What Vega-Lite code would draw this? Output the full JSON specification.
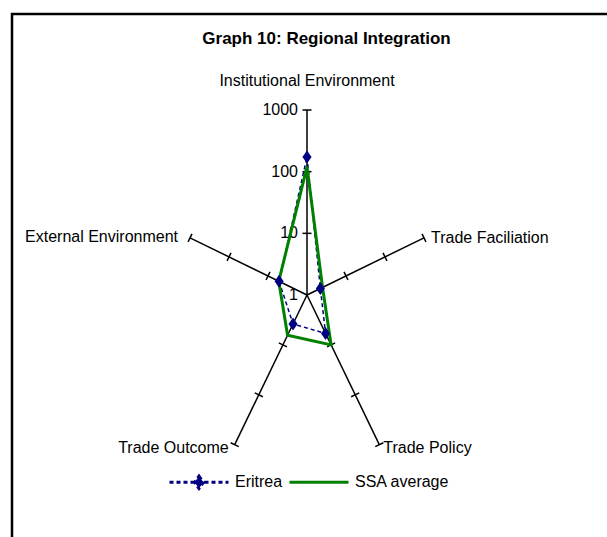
{
  "$schema": "https://vega.github.io/schema/vega-lite/v6.json",
  "width": 598,
  "height": 526,
  "autosize": "none",
  "padding": {"left": 12, "top": 14, "right": -3, "bottom": -3},
  "background": "white",
  "config": {
    "view": {"stroke": "black", "strokeWidth": 2.5},
    "font": "Liberation Sans",
    "text": {"font": "Liberation Sans", "fontSize": 16, "color": "black"}
  },
  "title": {
    "text": "Graph 10: Regional Integration",
    "font": "Liberation Sans",
    "fontSize": 17,
    "fontWeight": "bold",
    "color": "black",
    "anchor": "middle",
    "frame": "group",
    "offset": -47,
    "dx": 15.5,
    "baseline": "alphabetic"
  },
  "datasets": {
    "axes": [
      {"k": 0, "axis": "Institutional Environment"},
      {"k": 1, "axis": "Trade Faciliation"},
      {"k": 2, "axis": "Trade Policy"},
      {"k": 3, "axis": "Trade Outcome"},
      {"k": 4, "axis": "External Environment"}
    ],
    "ticks": [
      {"k": 0, "value": 10}, {"k": 0, "value": 100}, {"k": 0, "value": 1000},
      {"k": 1, "value": 10}, {"k": 1, "value": 100}, {"k": 1, "value": 1000},
      {"k": 2, "value": 10}, {"k": 2, "value": 100}, {"k": 2, "value": 1000},
      {"k": 3, "value": 10}, {"k": 3, "value": 100}, {"k": 3, "value": 1000},
      {"k": 4, "value": 10}, {"k": 4, "value": 100}, {"k": 4, "value": 1000}
    ],
    "scale": [{"value": 1}, {"value": 10}, {"value": 100}, {"value": 1000}],
    "scores": [
      {"series": "Eritrea", "k": 0, "axis": "Institutional Environment", "value": 173},
      {"series": "Eritrea", "k": 1, "axis": "Trade Faciliation", "value": 2.2},
      {"series": "Eritrea", "k": 2, "axis": "Trade Policy", "value": 5.9},
      {"series": "Eritrea", "k": 3, "axis": "Trade Outcome", "value": 3.8},
      {"series": "Eritrea", "k": 4, "axis": "External Environment", "value": 5.2},
      {"series": "SSA average", "k": 0, "axis": "Institutional Environment", "value": 120},
      {"series": "SSA average", "k": 1, "axis": "Trade Faciliation", "value": 2.5},
      {"series": "SSA average", "k": 2, "axis": "Trade Policy", "value": 10},
      {"series": "SSA average", "k": 3, "axis": "Trade Outcome", "value": 6.4},
      {"series": "SSA average", "k": 4, "axis": "External Environment", "value": 5.3}
    ]
  },
  "encoding": {
    "x": {"field": "x", "type": "quantitative", "scale": {"domain": [-7.195, 7.39], "nice": false, "zero": false}, "axis": null},
    "y": {"field": "y", "type": "quantitative", "scale": {"domain": [-3.9727, 4.557], "nice": false, "zero": false}, "axis": null}
  },
  "layer": [
    {
      "data": {"name": "axes"},
      "transform": [
        {"calculate": "datum.k*2*PI/5", "as": "t"},
        {"calculate": "0", "as": "x"},
        {"calculate": "0", "as": "y"},
        {"calculate": "3*sin(datum.t)", "as": "x2"},
        {"calculate": "3*cos(datum.t)", "as": "y2"}
      ],
      "mark": {"type": "rule", "color": "black", "strokeWidth": 1.5},
      "encoding": {"x2": {"field": "x2"}, "y2": {"field": "y2"}}
    },
    {
      "data": {"name": "ticks"},
      "transform": [
        {"calculate": "datum.k*2*PI/5", "as": "t"},
        {"calculate": "log(datum.value)/LN10", "as": "r"},
        {"calculate": "sin(datum.t)", "as": "s"},
        {"calculate": "cos(datum.t)", "as": "c"},
        {"calculate": "sqrt(pow(datum.s*41,2)+pow(datum.c*61.67,2))", "as": "n"},
        {"calculate": "-datum.c*61.67/datum.n*4.5/41", "as": "px"},
        {"calculate": "datum.s*41/datum.n*4.5/61.67", "as": "py"},
        {"calculate": "datum.r*datum.s+datum.px", "as": "x"},
        {"calculate": "datum.r*datum.c+datum.py", "as": "y"},
        {"calculate": "datum.r*datum.s-datum.px", "as": "x2"},
        {"calculate": "datum.r*datum.c-datum.py", "as": "y2"}
      ],
      "mark": {"type": "rule", "color": "black", "strokeWidth": 1.5},
      "encoding": {"x2": {"field": "x2"}, "y2": {"field": "y2"}}
    },
    {
      "data": {"name": "scale"},
      "transform": [
        {"calculate": "0", "as": "x"},
        {"calculate": "log(datum.value)/LN10", "as": "y"}
      ],
      "mark": {"type": "text", "align": "right", "baseline": "middle", "dx": -9, "fontSize": 16},
      "encoding": {"text": {"field": "value", "type": "quantitative", "format": "d"}}
    },
    {
      "data": {"name": "axes"},
      "transform": [
        {"filter": "datum.k == 0"},
        {"calculate": "datum.k*2*PI/5", "as": "t"},
        {"calculate": "3*sin(datum.t)", "as": "x"},
        {"calculate": "3*cos(datum.t)", "as": "y"}
      ],
      "mark": {"type": "text", "align": "center", "baseline": "middle", "dy": -29, "fontSize": 16},
      "encoding": {"text": {"field": "axis"}}
    },
    {
      "data": {"name": "axes"},
      "transform": [
        {"filter": "datum.k == 1"},
        {"calculate": "datum.k*2*PI/5", "as": "t"},
        {"calculate": "3*sin(datum.t)", "as": "x"},
        {"calculate": "3*cos(datum.t)", "as": "y"}
      ],
      "mark": {"type": "text", "align": "left", "baseline": "middle", "dx": 7, "fontSize": 16},
      "encoding": {"text": {"field": "axis"}}
    },
    {
      "data": {"name": "axes"},
      "transform": [
        {"filter": "datum.k == 2"},
        {"calculate": "datum.k*2*PI/5", "as": "t"},
        {"calculate": "3*sin(datum.t)", "as": "x"},
        {"calculate": "3*cos(datum.t)", "as": "y"}
      ],
      "mark": {"type": "text", "align": "left", "baseline": "middle", "dx": 4, "dy": 3, "fontSize": 16},
      "encoding": {"text": {"field": "axis"}}
    },
    {
      "data": {"name": "axes"},
      "transform": [
        {"filter": "datum.k == 3"},
        {"calculate": "datum.k*2*PI/5", "as": "t"},
        {"calculate": "3*sin(datum.t)", "as": "x"},
        {"calculate": "3*cos(datum.t)", "as": "y"}
      ],
      "mark": {"type": "text", "align": "right", "baseline": "middle", "dx": -6, "dy": 3, "fontSize": 16},
      "encoding": {"text": {"field": "axis"}}
    },
    {
      "data": {"name": "axes"},
      "transform": [
        {"filter": "datum.k == 4"},
        {"calculate": "datum.k*2*PI/5", "as": "t"},
        {"calculate": "3*sin(datum.t)", "as": "x"},
        {"calculate": "3*cos(datum.t)", "as": "y"}
      ],
      "mark": {"type": "text", "align": "right", "baseline": "middle", "dx": -12, "dy": -1, "fontSize": 16},
      "encoding": {"text": {"field": "axis"}}
    },
    {
      "data": {"name": "scores"},
      "transform": [
        {"filter": "datum.series == 'Eritrea'"},
        {"calculate": "datum.k*2*PI/5", "as": "t"},
        {"calculate": "log(datum.value)/LN10", "as": "r"},
        {"calculate": "datum.r*sin(datum.t)", "as": "x"},
        {"calculate": "datum.r*cos(datum.t)", "as": "y"}
      ],
      "mark": {"type": "line", "interpolate": "linear-closed", "color": "#000080", "strokeWidth": 1.5, "strokeDash": [4, 3]},
      "encoding": {"order": {"field": "k", "type": "quantitative"}}
    },
    {
      "data": {"name": "scores"},
      "transform": [
        {"filter": "datum.series == 'SSA average'"},
        {"calculate": "datum.k*2*PI/5", "as": "t"},
        {"calculate": "log(datum.value)/LN10", "as": "r"},
        {"calculate": "datum.r*sin(datum.t)", "as": "x"},
        {"calculate": "datum.r*cos(datum.t)", "as": "y"}
      ],
      "mark": {"type": "line", "interpolate": "linear-closed", "color": "#008000", "strokeWidth": 3},
      "encoding": {"order": {"field": "k", "type": "quantitative"}}
    },
    {
      "data": {"name": "scores"},
      "transform": [
        {"filter": "datum.series == 'Eritrea'"},
        {"calculate": "datum.k*2*PI/5", "as": "t"},
        {"calculate": "log(datum.value)/LN10", "as": "r"},
        {"calculate": "datum.r*sin(datum.t)", "as": "x"},
        {"calculate": "datum.r*cos(datum.t)", "as": "y"}
      ],
      "mark": {"type": "point", "shape": "M0,-1L0.7,0L0,1L-0.7,0Z", "size": 169, "filled": true, "color": "#000080", "opacity": 1}
    },
    {
      "data": {"name": "scores"},
      "transform": [
        {"calculate": "datum.k*2*PI/5", "as": "t"},
        {"calculate": "log(datum.value)/LN10", "as": "r"},
        {"calculate": "datum.r*sin(datum.t)", "as": "x"},
        {"calculate": "datum.r*cos(datum.t)", "as": "y"}
      ],
      "mark": {"type": "point", "filled": true, "fill": "#000080", "strokeWidth": 3},
      "encoding": {
        "opacity": {"value": 0},
        "stroke": {
          "field": "series", "type": "nominal",
          "scale": {"domain": ["Eritrea", "SSA average"], "range": ["#000080", "#008000"]},
          "legend": {"orient": "none", "legendX": 156, "legendY": 437, "direction": "horizontal", "title": null, "symbolSize": 3481, "symbolStrokeWidth": 3, "symbolOpacity": 1, "labelFont": "Liberation Sans", "labelFontSize": 16, "labelColor": "black", "labelOffset": 5, "columnPadding": 0, "padding": 0}
        },
        "strokeDash": {
          "field": "series", "type": "nominal",
          "scale": {"domain": ["Eritrea", "SSA average"], "range": [[4, 3], [1, 0]]},
          "legend": {"orient": "none", "legendX": 156, "legendY": 437, "direction": "horizontal", "title": null, "symbolSize": 3481, "symbolStrokeWidth": 3, "symbolOpacity": 1, "labelFont": "Liberation Sans", "labelFontSize": 16, "labelColor": "black", "labelOffset": 5, "columnPadding": 0, "padding": 0}
        },
        "shape": {
          "field": "series", "type": "nominal",
          "scale": {"domain": ["Eritrea", "SSA average"], "range": ["M-1,0H1M0,-0.21L0.15,0L0,0.21L-0.15,0ZM0,-0.35L0,-0.35M0,0.35L0,0.35", "M-1,0H1M0,-0.35L0,-0.35M0,0.35L0,0.35"]},
          "legend": {"orient": "none", "legendX": 156, "legendY": 437, "direction": "horizontal", "title": null, "symbolSize": 3481, "symbolStrokeWidth": 3, "symbolOpacity": 1, "labelFont": "Liberation Sans", "labelFontSize": 16, "labelColor": "black", "labelOffset": 5, "columnPadding": 0, "padding": 0}
        }
      }
    }
  ]
}
